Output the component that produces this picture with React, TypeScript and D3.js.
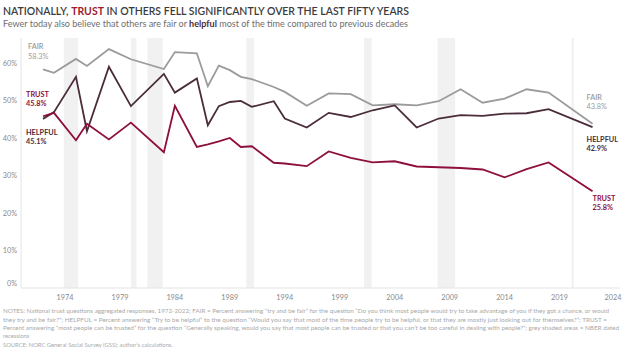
import React from "react";
import * as d3 from "d3";

// GSS survey years and the three series (percent)
const years = [1972, 1973, 1975, 1976, 1978, 1980, 1983, 1984, 1986, 1987, 1988, 1989, 1990, 1991, 1993, 1994, 1996, 1998, 2000, 2002, 2004, 2006, 2008, 2010, 2012, 2014, 2016, 2018, 2022];
const fair = [58.3, 57.4, 61.1, 59.2, 63.7, 61.0, 58.4, 62.9, 62.6, 53.8, 59.3, 58.1, 56.3, 55.7, 53.6, 52.3, 48.6, 51.9, 51.7, 48.7, 49.0, 48.7, 49.8, 53.0, 49.4, 50.5, 53.0, 52.1, 43.8];
const helpful = [45.1, 46.9, 56.3, 41.8, 59.0, 48.5, 57.1, 52.1, 55.9, 43.4, 48.5, 49.6, 49.9, 48.3, 49.8, 45.2, 42.8, 46.7, 45.6, 47.4, 48.7, 42.8, 45.2, 46.1, 45.9, 46.5, 46.6, 47.7, 42.9];
const trust = [45.8, 46.7, 39.4, 43.8, 39.6, 44.1, 36.2, 48.6, 37.6, 38.3, 39.1, 40.0, 37.6, 37.8, 33.4, 33.2, 32.5, 36.4, 34.7, 33.5, 33.8, 32.4, 32.2, 32.0, 31.6, 29.5, 31.7, 33.5, 25.8];

// NBER recessions (start, end as fractional years)
const recessions = [[1973.9, 1975.2], [1980.0, 1980.5], [1981.5, 1982.9], [1990.5, 1991.2], [2001.2, 2001.9], [2007.9, 2009.5], [2020.1, 2020.3]];

const xTicks = [1974, 1979, 1984, 1989, 1994, 1999, 2004, 2009, 2014, 2019, 2024];
const yTicks = [0, 10, 20, 30, 40, 50, 60];

const notes = [
  "NOTES: National trust questions aggregated responses, 1972-2022; FAIR = Percent answering \u201Ctry and be fair\u201D for the question \u201CDo you think most people would try to take advantage of you if they got a chance, or would",
  "they try and be fair?\u201D; HELPFUL = Percent answering \u201CTry to be helpful\u201D to the question \u201CWould you say that most of the time people try to be helpful, or that they are mostly just looking out for themselves?\u201D; TRUST =",
  "Percent answering \u201Cmost people can be trusted\u201D for the question \u201CGenerally speaking, would you say that most people can be trusted or that you can\u2019t be too careful in dealing with people?\u201D; grey shaded areas = NBER dated",
  "recessions",
  "SOURCE: NORC General Social Survey (GSS); author\u2019s calculations.",
];

const W = 624, H = 351;
const FONT = "Lato, 'Open Sans', sans-serif";
const C_FAIR = "#9b9b9b", C_HELP = "#4a2c3a", C_TRUST = "#8e0f3d";

export default function App() {
  const x = d3.scaleLinear().domain([1970, 2024.5]).range([21, 620]);
  const y = d3.scaleLinear().domain([0, 60]).range([288, 63]);
  const top = 38;

  const line = d3.line<number>()
    .x((_, i) => x(years[i]))
    .y((d) => y(d));

  const series = [
    { name: "FAIR", values: fair, color: C_FAIR },
    { name: "HELPFUL", values: helpful, color: C_HELP },
    { name: "TRUST", values: trust, color: C_TRUST },
  ];

  const last = years.length - 1;

  return (
    <svg width={W} height={H} style={{ position: "absolute", left: 0, top: 0, background: "#fff" }} fontFamily={FONT}>
      {/* title */}
      <text x={3} y={14.5} fontSize={10.5} fill="#3b3b3b" fontWeight={600} textLength={406} lengthAdjust="spacingAndGlyphs">
        NATIONALLY, <tspan fill="#9b1c33" fontWeight={700}>TRUST</tspan> IN OTHERS FELL SIGNIFICANTLY OVER THE LAST FIFTY YEARS
      </text>
      <text x={3} y={27} fontSize={8.6} fill="#6e6e6e" textLength={405} lengthAdjust="spacingAndGlyphs">
        Fewer today also believe that others are fair or <tspan fontWeight={700} fill={C_HELP}>helpful</tspan> most of the time compared to previous decades
      </text>

      {/* recession shading */}
      {recessions.map(([a, b], i) => (
        <rect key={i} x={x(a)} y={top} width={x(b) - x(a)} height={y(0) - top} fill="#f1f1f1" />
      ))}

      {/* axes lines */}
      <line x1={x(1970)} x2={x(1970)} y1={top} y2={y(0)} stroke="#e4e4e4" />
      <line x1={x(1970)} x2={620} y1={y(0)} y2={y(0)} stroke="#e4e4e4" />

      {yTicks.map((t) => (
        <text key={t} x={17} y={t === 0 ? y(t) - 2 : y(t) + 2.5} fontSize={7.3} fill="#8a8a8a" textAnchor="end">
          {t}%
        </text>
      ))}
      {xTicks.map((t) => (
        <text key={t} x={Math.min(x(t), 619)} y={300} fontSize={7.3} fill="#8a8a8a" textAnchor={t === 2024 ? "end" : "middle"} dx={t === 2024 ? 7 : 0}>
          {t}
        </text>
      ))}

      {/* lines */}
      {series.map((s) => (
        <path key={s.name} d={line(s.values) || ""} fill="none" stroke={s.color} strokeWidth={1.8} strokeLinejoin="miter" />
      ))}

      {/* start labels */}
      <text x={28} y={49} fontSize={7.3} fill={C_FAIR} fontWeight={600}>FAIR</text>
      <text x={28} y={58.5} fontSize={7.3} fill={C_FAIR}>{fair[0].toFixed(1)}%</text>
      <text x={26} y={96.5} fontSize={7.3} fill={C_TRUST} fontWeight={700}>TRUST</text>
      <text x={26} y={106} fontSize={7.3} fill={C_TRUST} fontWeight={700}>{trust[0].toFixed(1)}%</text>
      <text x={26} y={134.5} fontSize={7.3} fill={C_HELP} fontWeight={700}>HELPFUL</text>
      <text x={26} y={144} fontSize={7.3} fill={C_HELP} fontWeight={700}>{helpful[0].toFixed(1)}%</text>

      {/* end labels */}
      <text x={x(years[last]) - 6} y={99.5} fontSize={7.3} fill={C_FAIR} fontWeight={600}>FAIR</text>
      <text x={x(years[last]) - 6} y={109} fontSize={7.3} fill={C_FAIR}>{fair[last].toFixed(1)}%</text>
      <text x={x(years[last]) - 6} y={141.5} fontSize={7.3} fill={C_HELP} fontWeight={700}>HELPFUL</text>
      <text x={x(years[last]) - 6} y={151} fontSize={7.3} fill={C_HELP} fontWeight={700}>{helpful[last].toFixed(1)}%</text>
      <text x={x(years[last])} y={200.5} fontSize={7.3} fill={C_TRUST} fontWeight={700}>TRUST</text>
      <text x={x(years[last])} y={210} fontSize={7.3} fill={C_TRUST} fontWeight={700}>{trust[last].toFixed(1)}%</text>

      {/* notes */}
      {notes.map((n, i) => {
        const lens = [606, 604, 616, 0, 0];
        const ys = [313, 321.5, 330, 338.3, 346.6];
        return (
          <text key={i} x={3} y={ys[i]} fontSize={5.8} fill="#a9a9a9"
            {...(lens[i] ? { textLength: lens[i], lengthAdjust: "spacingAndGlyphs" } : {})}>
            {n}
          </text>
        );
      })}
    </svg>
  );
}
